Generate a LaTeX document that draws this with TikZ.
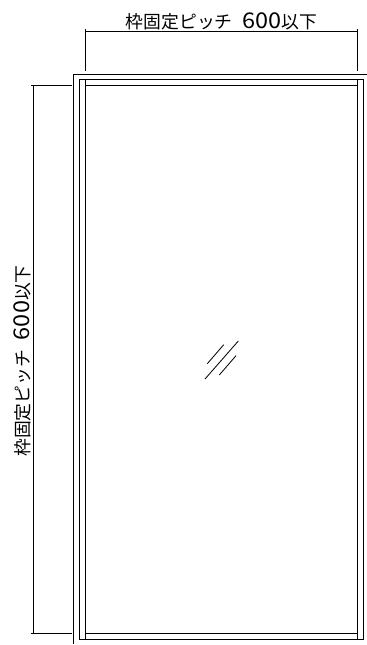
\documentclass[tikz,border=0pt]{standalone}
\usepackage{fontspec}
\usepackage{graphicx}
\newfontfamily\cadfont{Noto Sans CJK JP}
\newcommand{\pitchtext}{枠固定ピッチ\hspace{0.55em}\scalebox{1.32}[1.22]{600}以下}

\begin{document}
\begin{tikzpicture}[x=0.03cm,y=-0.03cm,line cap=butt,
    frameline/.style={draw=black,line width=0.85pt},
    dimline/.style={draw=black,line width=0.7pt},
    dimtext/.style={font=\cadfont\fontsize{15.2pt}{16pt}\selectfont,inner sep=0pt}]
    \useasboundingbox (0,0) rectangle (367,645);

    % Outer wall lines:
    \draw [frameline] (367,74) -- (73.7,74) -- (73.7,644);

    % Frame and glass opening:
    \draw [frameline] (79.7,79.7) rectangle (363.3,639.7);
    \draw [frameline] (85.7,85.7) -- (357.7,85.7);
    \draw [frameline] (85.7,633.7) -- (357.7,633.7);
    \draw [frameline] (85.7,79.7) -- (85.7,639.7);
    \draw [frameline] (357.7,79.7) -- (357.7,639.7);

    % Top dimension:
    \draw [dimline] (85.7,29) -- (85.7,71);
    \draw [dimline] (357.7,29) -- (357.7,71);
    \draw [dimline] (85.7,31.5) -- (357.7,31.5);
    \node [dimtext] (toplabel) at (221.5,21.5) {\pitchtext};

    % Left dimension:
    \draw [dimline] (31,85.7) -- (71.5,85.7);
    \draw [dimline] (31,633.7) -- (71.5,633.7);
    \draw [dimline] (33.3,85.7) -- (33.3,633.7);
    \node [dimtext,rotate=90] (leftlabel) at (22.5,361) {\pitchtext};

    % Glass mark:
    \draw [dimline] (207.3,363.7) -- (223.7,344.7);
    \draw [dimline] (205,379) -- (238.3,341);
    \draw [dimline] (219.3,375) -- (236,355.7);
\end{tikzpicture}
\end{document}
